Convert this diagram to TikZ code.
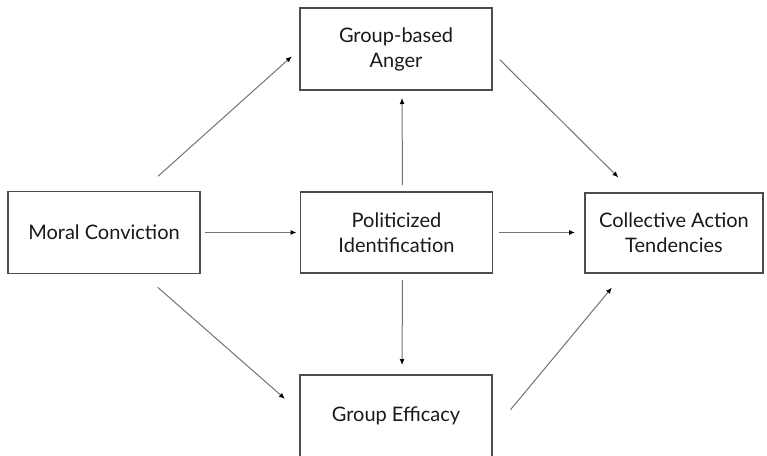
\documentclass[tikz,border=0pt]{standalone}
\usepackage{fontspec}
\setmainfont{Lato}
\usetikzlibrary{arrows.meta}

\begin{document}
\begin{tikzpicture}[x=1pt, y=-1pt,
  every node/.style={outer sep=0pt, font=\fontsize{20}{25}\selectfont, text=black!90, align=center},
  box/.style={draw=black!70, line width=1.5pt, minimum width=192pt, minimum height=82pt, inner sep=0pt},
  link/.style={draw=black!55, line width=1pt, -{Latex[length=6pt, width=5pt, color=black]}}]
\useasboundingbox (0,0) rectangle (767,455);

\node[box] (anger) at (396,49) {Group-based\\Anger};
\node[box] (moral) at (104,232.5) {Moral Conviction};
\node[box, minimum height=81pt] (polid) at (396.5,232.5) {Politicized\\Identification};
\node[box, minimum width=178pt, minimum height=80pt] (collact) at (674,233) {Collective Action\\Tendencies};
\node[box] (effic) at (396,416) {Group Efficacy};

\draw[link, shorten <=23pt, shorten >=11pt] ([xshift=37pt]moral.north) -- (anger.west);
\draw[link, shorten <=21pt, shorten >=20pt] ([xshift=38pt]moral.south) -- ([yshift=4pt]effic.west);
\draw[link, shorten <=5pt, shorten >=4pt] (moral.east) -- (polid.west);
\draw[link, shorten <=6pt, shorten >=10pt] (polid.east) -- (collact.west |- polid.east);
\draw[link, shorten <=7pt, shorten >=8pt] ([xshift=6pt]polid.north) -- ([xshift=6pt]anger.south);
\draw[link, shorten <=7pt, shorten >=10pt] ([xshift=6pt]polid.south) -- ([xshift=6pt]effic.north);
\draw[link, shorten <=11pt, shorten >=22pt] ([yshift=-3pt]anger.east) -- ([xshift=-40pt]collact.north);
\draw[link, shorten <=29pt, shorten >=19pt] ([yshift=-16pt]effic.east) -- ([xshift=-50pt]collact.south);
\end{tikzpicture}
\end{document}
